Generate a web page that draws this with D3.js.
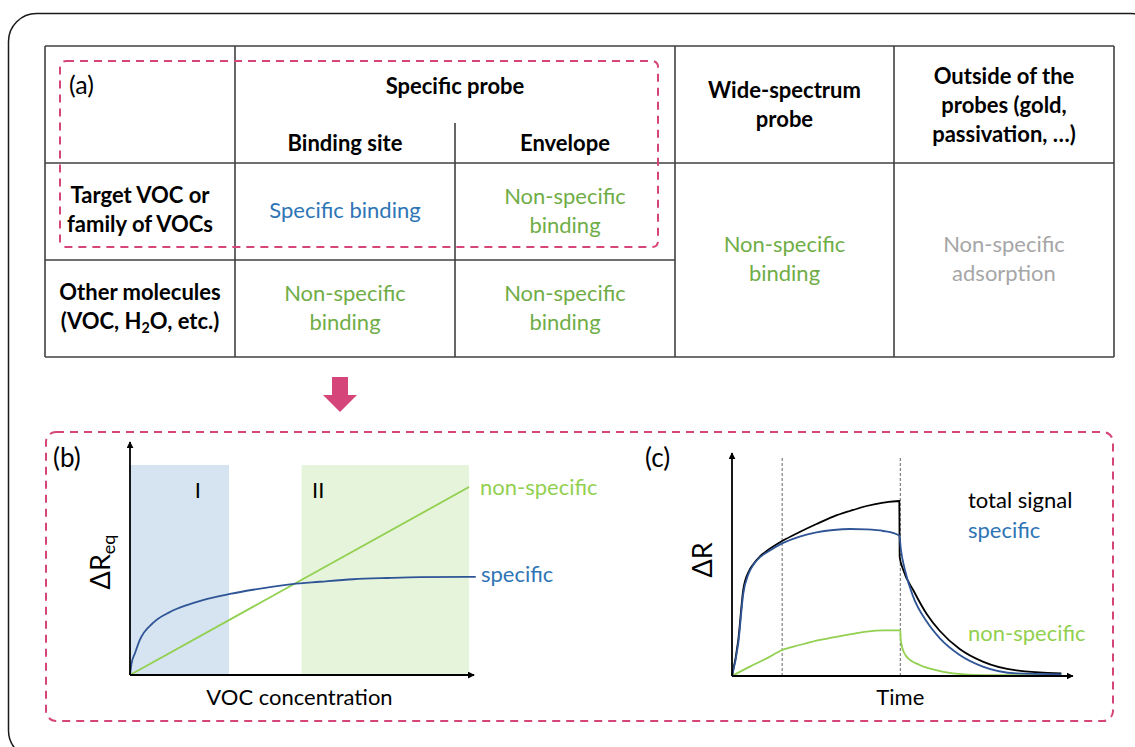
<!DOCTYPE html>
<html lang="en">
<head>
<meta charset="UTF-8">
<title>VOC sensing: specific vs non-specific binding</title>
<script src="https://d3js.org/d3.v7.min.js"></script>
<style>
  body { margin: 0; background: #fff; font-family: Lato, "Open Sans", sans-serif; }
  svg { display: block; }
</style>
</head>
<body>
<script>
// ---- (a) table contents ----
const groupHeader = "Specific probe";
const colHeaders = [["Binding site"], ["Envelope"], ["Wide-spectrum", "probe"], ["Outside of the", "probes (gold,", "passivation, …)"]];
const rowHeaders = [["Target VOC or", "family of VOCs"], ["Other molecules", "(VOC, H_2O, etc.)"]];
// row index, column index, rows spanned, text, kind
const cells = [
  { row: 0, col: 0, span: 1, lines: ["Specific binding"], kind: "specific" },
  { row: 0, col: 1, span: 1, lines: ["Non-specific", "binding"], kind: "nonspecific" },
  { row: 1, col: 0, span: 1, lines: ["Non-specific", "binding"], kind: "nonspecific" },
  { row: 1, col: 1, span: 1, lines: ["Non-specific", "binding"], kind: "nonspecific" },
  { row: 0, col: 2, span: 2, lines: ["Non-specific", "binding"], kind: "nonspecific" },
  { row: 0, col: 3, span: 2, lines: ["Non-specific", "adsorption"], kind: "adsorption" }
];

// ---- (b) equilibrium response vs concentration ----
const regionLabels = ["I", "II"];
const regionRanges = [[0, 29.2], [50.6, 100]];
const concSpecific = [0, 0.4, 1.5, 2.9, 6.8, 11.8, 16.8, 21.5, 29.5, 36.3, 47.8, 56, 65.8, 75.8, 85.5, 100, 102];
const reqSpecific = [0, 5, 10.5, 16.7, 24.8, 30, 33.3, 35.7, 38.6, 40.6, 43.3, 44.4, 45.6, 46.2, 46.6, 46.7, 46.7];
const concNonSpecific = [0, 100];
const reqNonSpecific = [0, 89.5];

// ---- (c) transient response vs time ----
const phaseBounds = [15.2, 51.0];
const tTotal = [0, 1.9, 3.4, 5, 6.5, 8.4, 10.5, 15.2, 20.5, 25.6, 30.7, 35.7, 40.8, 45.9, 50.7, 50.8, 51.9, 54.9, 59, 63, 69, 76, 86.2, 99.8];
const rTotal = [0, 18, 43, 52, 56, 59.7, 62.5, 67.5, 72, 76, 79.7, 82.5, 85, 86.7, 87.5, 59.7, 53, 43, 31, 22.5, 13.5, 7.2, 2.8, 1.3];
const tSpecific = [0, 1.9, 3.4, 5, 6.5, 8.4, 10.5, 15.2, 20.5, 25.6, 30.7, 35.7, 40.8, 45.9, 50.7, 51.2, 52.4, 54.9, 59, 63, 69, 76, 86.2, 99.8];
const rSpecific = [0, 16.3, 41, 51, 55.6, 59.3, 61.7, 66.3, 69.7, 71.8, 73, 73.5, 73.3, 72.5, 70.2, 63, 53, 39.7, 27.2, 18.8, 10.5, 4.7, 1.3, 0.8];
const tNonSpecific = [0, 5.4, 10.5, 15.2, 20.5, 25.6, 30.7, 35.7, 40.8, 45.9, 51.0, 51.1, 51.4, 52.2, 52.9, 56.9, 60.9, 67, 76, 99.8];
const rNonSpecific = [0, 4.7, 8.8, 13, 15.5, 17.7, 19.3, 20.8, 22.2, 22.8, 22.8, 19, 15.5, 11.5, 9.7, 5.5, 3.3, 1.3, 0.4, 0.5];

const colors = {
  specific: "#2e75b6", nonspecific: "#70ad47", adsorption: "#a6a6a6",
  lineSpecific: "#2f5597", lineNon: "#92d050", pink: "#d6457a",
  regionI: "#d6e3f0", regionII: "#e6f4db", grid: "#404040"
};

const svg = d3.select("body").append("svg")
  .attr("width", 1135).attr("height", 747);

const defs = svg.append("defs");
defs.append("marker")
  .attr("id", "arrow").attr("viewBox", "0 0 10 10")
  .attr("refX", 9).attr("refY", 5)
  .attr("markerWidth", 7).attr("markerHeight", 7)
  .attr("markerUnits", "userSpaceOnUse")
  .attr("orient", "auto")
  .append("path").attr("d", "M0,0L10,5L0,10Z").attr("fill", "#000");

// outer frame
svg.append("rect")
  .attr("x", 8.5).attr("y", 13.5).attr("width", 1150).attr("height", 745)
  .attr("rx", 28).attr("fill", "none").attr("stroke", "#1a1a1a").attr("stroke-width", 1.5);

// helper: multi-line centred text, "_2" -> subscript
function multiText(g, lines, cx, cy, opts) {
  const lh = opts.lineHeight || 29;
  const size = opts.size || 22;
  const t = g.append("text")
    .attr("text-anchor", "middle")
    .attr("font-size", size)
    .attr("font-weight", opts.weight || "normal")
    .attr("fill", opts.fill || "#000");
  lines.forEach((ln, i) => {
    const y = cy + (i - (lines.length - 1) / 2) * lh;
    const parts = ln.split(/_(\d)/);
    const line = t.append("tspan").attr("x", cx).attr("y", y).attr("dy", "0.35em");
    parts.forEach((p, j) => {
      if (j % 2 === 1) {
        line.append("tspan").attr("font-size", size * 0.65).attr("baseline-shift", "-25%").text(p);
      } else if (p) {
        line.append("tspan").text(p);
      }
    });
  });
  return t;
}

// ================= (a) table =================
const tableX = [45, 235, 455, 675, 894, 1114];
const tableY = [46, 163, 260, 357];
const table = svg.append("g");
const gridLines = [
  [tableX[0], tableY[0], tableX[5], tableY[0]],
  [tableX[0], tableY[3], tableX[5], tableY[3]],
  [tableX[0], tableY[1], tableX[5], tableY[1]],
  [tableX[0], tableY[2], tableX[3], tableY[2]],
  [tableX[0], tableY[0], tableX[0], tableY[3]],
  [tableX[1], tableY[0], tableX[1], tableY[3]],
  [tableX[2], 123, tableX[2], tableY[3]],
  [tableX[3], tableY[0], tableX[3], tableY[3]],
  [tableX[4], tableY[0], tableX[4], tableY[3]],
  [tableX[5], tableY[0], tableX[5], tableY[3]]
];
table.selectAll("line").data(gridLines).join("line")
  .attr("x1", d => d[0]).attr("y1", d => d[1]).attr("x2", d => d[2]).attr("y2", d => d[3])
  .attr("stroke", colors.grid).attr("stroke-width", 1.6);

const colCenter = i => (tableX[i + 1] + tableX[i + 2]) / 2;
const rowCenter = (r, span) => (tableY[r + 1] + tableY[r + 1 + span]) / 2;

multiText(table, [groupHeader], (tableX[1] + tableX[3]) / 2, 86, { weight: "bold" });
multiText(table, colHeaders[0], colCenter(0), 143, { weight: "bold" });
multiText(table, colHeaders[1], colCenter(1), 143, { weight: "bold" });
multiText(table, colHeaders[2], colCenter(2), 105, { weight: "bold" });
multiText(table, colHeaders[3], colCenter(3), 105, { weight: "bold" });
rowHeaders.forEach((lines, r) => {
  multiText(table, lines, (tableX[0] + tableX[1]) / 2, rowCenter(r, 1) - 2, { weight: "bold" });
});
cells.forEach(c => {
  multiText(table, c.lines, colCenter(c.col), rowCenter(c.row, c.span) - 1, { fill: colors[c.kind] });
});

// pink highlight around target row + specific probe
table.append("rect")
  .attr("x", 60).attr("y", 61).attr("width", 598).attr("height", 186).attr("rx", 6)
  .attr("fill", "none").attr("stroke", colors.pink).attr("stroke-width", 2)
  .attr("stroke-dasharray", "8,6");
table.append("text").attr("x", 69).attr("y", 94).attr("font-size", 25).text("(a)");

// down arrow
svg.append("path")
  .attr("d", "M332,377H348V395H357L340,412L323,395H332Z")
  .attr("fill", colors.pink);

// bottom dashed frame
svg.append("rect")
  .attr("x", 46).attr("y", 432).attr("width", 1067).attr("height", 289).attr("rx", 10)
  .attr("fill", "none").attr("stroke", colors.pink).attr("stroke-width", 2)
  .attr("stroke-dasharray", "8,6");

// ================= (b) =================
const xB = d3.scaleLinear().domain([0, 100]).range([130, 469]);
const yB = d3.scaleLinear().domain([0, 100]).range([675, 465]);
const gB = svg.append("g");

gB.selectAll("rect.region").data(regionRanges).join("rect")
  .attr("class", "region")
  .attr("x", d => xB(d[0])).attr("width", d => xB(d[1]) - xB(d[0]))
  .attr("y", yB(100)).attr("height", yB(0) - yB(100))
  .attr("fill", (d, i) => i === 0 ? colors.regionI : colors.regionII);

gB.selectAll("text.region").data(regionLabels).join("text")
  .attr("class", "region")
  .attr("x", (d, i) => i === 0 ? xB(20) : xB(55.5))
  .attr("y", yB(88)).attr("dy", "0.35em")
  .attr("text-anchor", "middle").attr("font-size", 22).text(d => d);

const lineB = d3.line().x(d => xB(d[0])).y(d => yB(d[1])).curve(d3.curveMonotoneX);
gB.append("path").datum(concNonSpecific.map((c, i) => [c, reqNonSpecific[i]]))
  .attr("d", lineB).attr("fill", "none").attr("stroke", colors.lineNon).attr("stroke-width", 1.8);
gB.append("path").datum(concSpecific.map((c, i) => [c, reqSpecific[i]]))
  .attr("d", lineB).attr("fill", "none").attr("stroke", colors.lineSpecific).attr("stroke-width", 1.8);

// axes
gB.append("line").attr("x1", xB(0)).attr("y1", yB(0)).attr("x2", xB(0)).attr("y2", yB(111))
  .attr("stroke", "#000").attr("stroke-width", 1.8).attr("marker-end", "url(#arrow)");
gB.append("line").attr("x1", xB(0)).attr("y1", yB(0)).attr("x2", xB(101.5)).attr("y2", yB(0))
  .attr("stroke", "#000").attr("stroke-width", 1.8).attr("marker-end", "url(#arrow)");

gB.append("text").attr("x", xB(100) + 11).attr("y", yB(reqNonSpecific[1])).attr("dy", "0.35em")
  .attr("font-size", 22).attr("fill", colors.lineNon).text("non-specific");
gB.append("text").attr("x", xB(100) + 12).attr("y", yB(46.7) - 3).attr("dy", "0.35em")
  .attr("font-size", 22).attr("fill", colors.specific).text("specific");
gB.append("text").attr("x", (xB(0) + xB(100)) / 2).attr("y", 697).attr("dy", "0.35em")
  .attr("text-anchor", "middle").attr("font-size", 22).text("VOC concentration");
const yLabB = gB.append("text").attr("transform", "translate(110,562) rotate(-90)")
  .attr("text-anchor", "middle").attr("font-size", 27);
yLabB.append("tspan").text("ΔR");
yLabB.append("tspan").attr("font-size", 18).attr("baseline-shift", "-30%").text("eq");
gB.append("text").attr("x", 53).attr("y", 467).attr("font-size", 26).text("(b)");

// ================= (c) =================
const xC = d3.scaleLinear().domain([0, 100]).range([732, 1062]);
const yC = d3.scaleLinear().domain([0, 100]).range([676, 476]);
const gC = svg.append("g");

gC.selectAll("line.phase").data(phaseBounds).join("line")
  .attr("class", "phase")
  .attr("x1", d => xC(d)).attr("x2", d => xC(d))
  .attr("y1", yC(0)).attr("y2", yC(110))
  .attr("stroke", "#555").attr("stroke-width", 0.9).attr("stroke-dasharray", "3,2");

const lineC = d3.line().x(d => xC(d[0])).y(d => yC(d[1])).curve(d3.curveMonotoneX);
const seriesC = [
  { t: tNonSpecific, r: rNonSpecific, color: colors.lineNon },
  { t: tTotal, r: rTotal, color: "#000" },
  { t: tSpecific, r: rSpecific, color: colors.lineSpecific }
];
gC.selectAll("path.series").data(seriesC).join("path")
  .attr("class", "series")
  .attr("d", s => lineC(s.t.map((t, i) => [t, s.r[i]])))
  .attr("fill", "none").attr("stroke", s => s.color).attr("stroke-width", 1.8);

gC.append("line").attr("x1", xC(0)).attr("y1", yC(0)).attr("x2", xC(0)).attr("y2", yC(111.5))
  .attr("stroke", "#000").attr("stroke-width", 1.8).attr("marker-end", "url(#arrow)");
gC.append("line").attr("x1", xC(0)).attr("y1", yC(0)).attr("x2", xC(103.3)).attr("y2", yC(0))
  .attr("stroke", "#000").attr("stroke-width", 1.8).attr("marker-end", "url(#arrow)");

const legendC = [
  { text: "total signal", color: "#000", y: 500 },
  { text: "specific", color: colors.specific, y: 530 },
  { text: "non-specific", color: colors.lineNon, y: 633 }
];
gC.selectAll("text.legend").data(legendC).join("text")
  .attr("class", "legend")
  .attr("x", 968).attr("y", d => d.y).attr("dy", "0.35em")
  .attr("font-size", 22).attr("fill", d => d.color).text(d => d.text);
gC.append("text").attr("x", xC(51)).attr("y", 697).attr("dy", "0.35em")
  .attr("text-anchor", "middle").attr("font-size", 22).text("Time");
gC.append("text").attr("transform", "translate(712,560) rotate(-90)")
  .attr("text-anchor", "middle").attr("font-size", 27).text("ΔR");
gC.append("text").attr("x", 645).attr("y", 467).attr("font-size", 26).text("(c)");
</script>
</body>
</html>
